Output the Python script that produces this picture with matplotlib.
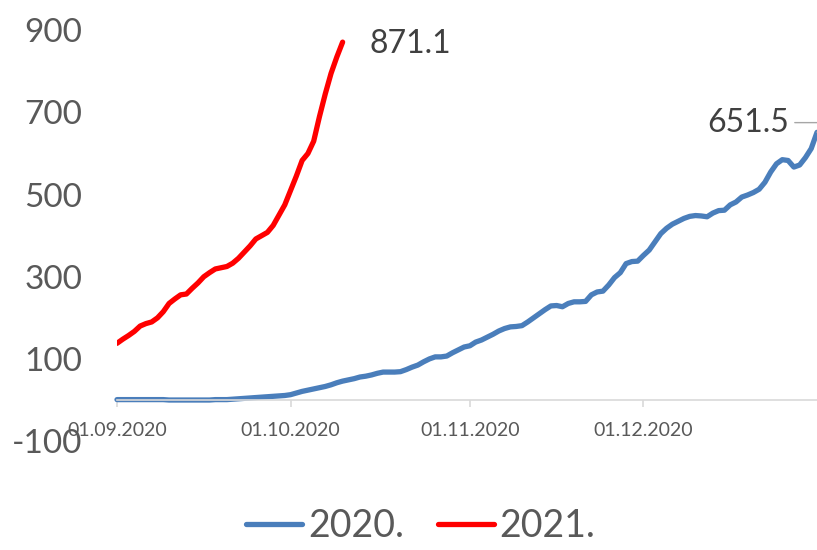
import numpy as np
import pandas as pd
import matplotlib
matplotlib.use("Agg")
import matplotlib.pyplot as plt
import matplotlib.dates as mdates

plt.rcParams['font.family'] = ['Lato', 'DejaVu Sans']

# daily values, 2020 series from 01.09.2020 to 31.12.2020
vals_2020 = [1, 1, 1, 1, 1, 1, 1, 1, 1, 0,
             0, 0, 0, 0, 0, 0, 0, 1, 1, 1,
             2, 3, 4, 5, 6, 7, 8, 9, 10, 11,
             13, 17, 21, 24, 27, 30, 33, 37, 42, 46,
             49, 52, 56, 58, 61, 65, 68, 68, 68, 69,
             74, 80, 85, 93, 100, 105, 105, 107, 115, 122,
             129, 132, 141, 146, 153, 160, 168, 174, 178, 179,
             181, 190, 200, 210, 220, 229, 230, 227, 235, 239,
             239, 240, 256, 263, 265, 280, 298, 310, 332, 337,
             338, 352, 365, 385, 405, 418, 428, 435, 442, 447,
             449, 448, 446, 455, 461, 462, 475, 482, 494, 499,
             505, 513, 530, 555, 575, 585, 583, 567, 572, 590,
             612, 651.5]

# 2021 series, same calendar days (plotted on the 2020 axis)
vals_2021 = [138, 148, 157, 167, 180, 186, 190, 200, 215, 235,
             246, 256, 258, 272, 285, 300, 310, 319, 322, 325,
             333, 345, 360, 375, 392, 400, 408, 425, 450, 475,
             510, 545, 583, 600, 630, 690, 745, 795, 835, 871.1]

tick_dates = ['2020-09-01', '2020-10-01', '2020-11-01', '2020-12-01']
tick_labels = ['01.09.2020', '01.10.2020', '01.11.2020', '01.12.2020']
y_ticks = [-100, 100, 300, 500, 700, 900]

dates_2020 = pd.date_range('2020-09-01', periods=len(vals_2020), freq='D')
dates_2021 = pd.date_range('2020-09-01', periods=len(vals_2021), freq='D')

blue = '#4a7ebb'
red = '#ff0000'
grey = '#595959'

fig = plt.figure(figsize=(8.17, 5.50), dpi=100)
ax = fig.add_axes([0.1432, 0.198, 0.8568, 0.747])

ax.plot(dates_2020, vals_2020, color=blue, lw=3.8, label='2020.', solid_capstyle='round', clip_on=False)
ax.plot(dates_2021, vals_2021, color=red, lw=3.8, label='2021.', solid_capstyle='round')

ax.set_xlim(dates_2020[0], dates_2020[-1])
ax.set_ylim(-100, 900)

for s in ['top', 'right', 'left']:
    ax.spines[s].set_visible(False)
ax.spines['bottom'].set_position(('data', 0))
ax.spines['bottom'].set_color('#d9d9d9')
ax.spines['bottom'].set_linewidth(1.2)

ax.set_xticks(pd.to_datetime(tick_dates))
ax.set_xticklabels(tick_labels, fontsize=14, color=grey)
ax.tick_params(axis='x', direction='out', length=5, color='#d9d9d9', width=1.2, pad=11)

ax.set_yticks(y_ticks)
ax.set_yticklabels([str(v) for v in y_ticks], fontsize=24, color=grey)
ax.tick_params(axis='y', length=0, pad=25)

# end labels
ax.annotate('871.1', xy=(dates_2021[-1], vals_2021[-1]), xytext=(19, -1),
            textcoords='offset points', fontsize=23, color='#404040',
            ha='left', va='center')
ax.annotate('651.5', xy=(dates_2020[-1], vals_2020[-1]), xytext=(-20, 7),
            textcoords='offset points', fontsize=23, color='#404040',
            ha='right', va='center', annotation_clip=False,
            arrowprops=dict(arrowstyle='-', color='#a6a6a6', lw=1,
                            shrinkA=2, shrinkB=0,
                            connectionstyle='angle,angleA=0,angleB=60,rad=0'))

leg = fig.legend(loc='lower center', bbox_to_anchor=(0.515, -0.05), ncol=2, frameon=False,
                 fontsize=27, handlelength=1.5, handletextpad=0.15, columnspacing=0.9)
for t in leg.get_texts():
    t.set_color(grey)

fig.savefig('out.png', dpi=100)
